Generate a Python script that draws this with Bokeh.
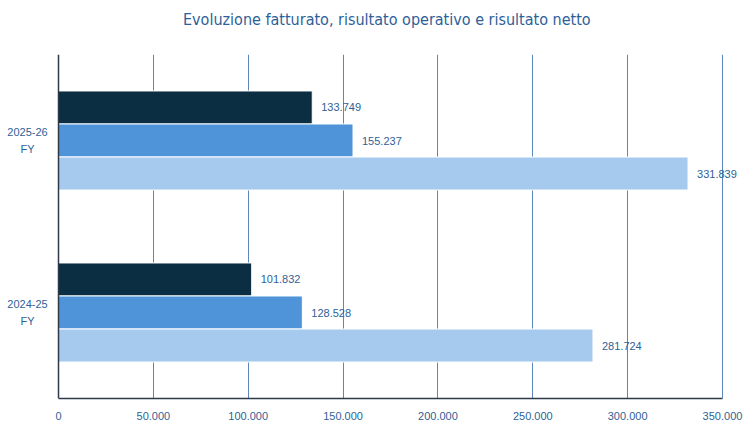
from bokeh.plotting import figure
from bokeh.models import ColumnDataSource, FactorRange, Range1d, FixedTicker, Label, Span, Div
from bokeh.layouts import column
from bokeh.transform import dodge
from bokeh.embed import file_html
from bokeh.resources import INLINE

title_text = "Evoluzione fatturato, risultato operativo e risultato netto"
categories = ["2024-25\nFY", "2025-26\nFY"]
risultato_netto = [101832, 133749]
risultato_operativo = [128528, 155237]
fatturato = [281724, 331839]
tick_values = [0, 50000, 100000, 150000, 200000, 250000, 300000, 350000]
tick_labels = ["0", "50.000", "100.000", "150.000", "200.000", "250.000", "300.000", "350.000"]

def fmt(v):
    return f"{v:,}".replace(",", ".")

src = ColumnDataSource(dict(
    cat=categories,
    netto=risultato_netto,
    operativo=risultato_operativo,
    fatturato=fatturato,
))

# layout in pixels: axis 0 at x=58, 350.000 at x=722, canvas width 753
W, X0, X1 = 753, 58, 722
vmax = tick_values[-1]
upp = vmax / (X1 - X0)
x_start = -X0 * upp
x_end = vmax + (W - X1) * upp

TEXT = "#2f5f96"
AXIS = "#2e3a47"
FONT = "Liberation Sans"

title = Div(text=title_text, width=W, height=54, margin=(0, 0, 0, 0),
            styles={"font-family": "DejaVu Sans Condensed", "font-size": "16px",
                    "color": "#2d5f99", "padding-left": "183px", "padding-top": "9px",
                    "box-sizing": "border-box", "white-space": "nowrap"})

p = figure(y_range=FactorRange(*categories, range_padding=0),
           x_range=Range1d(x_start, x_end),
           width=W, height=372,
           min_border_left=0, min_border_right=0, min_border_top=0, min_border_bottom=28,
           output_backend="svg", toolbar_location=None)

p.outline_line_color = None
p.ygrid.grid_line_color = None
p.xgrid.grid_line_color = "#5b87ba"
p.xgrid.grid_line_width = 1
p.xaxis.ticker = FixedTicker(ticks=tick_values)
p.xgrid.ticker = FixedTicker(ticks=tick_values[1:])
p.xaxis.major_label_overrides = {v: l for v, l in zip(tick_values, tick_labels)}
p.xaxis.bounds = (0, vmax)
p.xaxis.axis_line_color = AXIS
p.xaxis.axis_line_width = 1.5
p.xaxis.major_tick_line_color = None
p.xaxis.minor_tick_line_color = None
p.xaxis.major_label_text_font = FONT
p.xaxis.major_label_text_font_size = "11px"
p.xaxis.major_label_text_color = TEXT
p.xaxis.major_label_standoff = 7
p.yaxis.visible = False

bh = 0.192
series = [(risultato_netto, "netto", "#0b2e42", bh),
          (risultato_operativo, "operativo", "#4f94d9", 0.0),
          (fatturato, "fatturato", "#a6caed", -bh)]
for vals, name, color, off in series:
    p.hbar(y=dodge("cat", off, range=p.y_range), right=name, left=0, height=bh,
           source=src, fill_color=color, line_color="white", line_width=1)
    for i, v in enumerate(vals):
        p.add_layout(Label(x=v, y=i + 0.5 + off, text=fmt(v), x_offset=9, text_baseline="middle",
                           text_font=FONT, text_font_size="11px", text_color=TEXT))

p.add_layout(Span(location=0, dimension="height", line_color=AXIS, line_width=1.5))

for i, cat in enumerate(categories):
    p.add_layout(Label(x=0, y=i + 0.5, text=cat, x_offset=-31, text_align="center",
                       text_baseline="middle", text_font=FONT, text_font_size="11px",
                       text_color=TEXT, text_line_height=1.35))

layout = column(title, p, spacing=0)
open("out.html", "w").write(file_html(layout, INLINE))
